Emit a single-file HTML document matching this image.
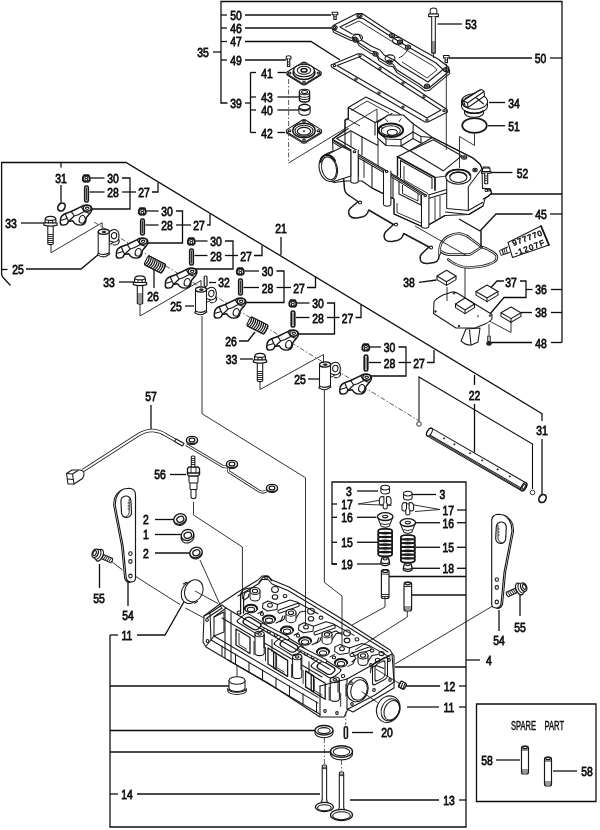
<!DOCTYPE html>
<html><head><meta charset="utf-8"><title>Cylinder head parts diagram</title>
<style>
html,body{margin:0;padding:0;background:#fff;}
body{width:600px;height:830px;overflow:hidden;}
svg{display:block;}
text{font-family:"Liberation Sans",sans-serif;font-size:13px;fill:#111;stroke:#111;stroke-width:.75px;}
.l{fill:none;stroke:#111;stroke-width:1.3;}
.t{fill:none;stroke:#1c1c1c;stroke-width:.9;}
.p{fill:none;stroke:#181818;stroke-width:1.05;stroke-linejoin:round;stroke-linecap:round;}
.w{fill:#fff;stroke:#181818;stroke-width:1.05;stroke-linejoin:round;stroke-linecap:round;}
.k{fill:#222;stroke:#222;stroke-width:.6;}
.d{fill:none;stroke:#333;stroke-width:.8;stroke-dasharray:5 2 1.5 2;}
</style></head><body>
<svg width="600" height="830" viewBox="0 0 600 830">
<defs><filter id="b" x="-2%" y="-2%" width="104%" height="104%"><feGaussianBlur stdDeviation="0.45"/></filter></defs>
<rect width="600" height="830" fill="#fff"/>
<g filter="url(#b)">
<!-- 10_labels_top.py -->
<path class="l" d="M221 102.5 L221 1.5 L562 1.5 L562 342.5"/>
<text transform="translate(203,52) scale(0.8,1)" text-anchor="middle" y="4.7">35</text>
<path class="l" d="M213 52 L221 52"/>
<path class="l" d="M221 15 L227 15"/>
<text transform="translate(236,15) scale(0.8,1)" text-anchor="middle" y="4.7">50</text>
<path class="l" d="M221 28 L227 28"/>
<text transform="translate(236,28) scale(0.8,1)" text-anchor="middle" y="4.7">46</text>
<path class="l" d="M221 41.5 L227 41.5"/>
<text transform="translate(236,41.5) scale(0.8,1)" text-anchor="middle" y="4.7">47</text>
<path class="l" d="M221 60 L227 60"/>
<text transform="translate(236,60) scale(0.8,1)" text-anchor="middle" y="4.7">49</text>
<path class="l" d="M245 15 L331 15"/>
<path class="l" d="M245 28 L332 28"/>
<path class="l" d="M245 41.5 L311 41.5 L340 60"/>
<path class="l" d="M245 60 L286 60"/>
<path class="l" d="M221 102 L221 103 L227.5 103"/>
<text transform="translate(236,103.5) scale(0.8,1)" text-anchor="middle" y="4.7">39</text>
<path class="l" d="M245 103 L250.5 103"/>
<path class="l" d="M250.5 72.5 L250.5 132.5"/>
<path class="l" d="M250.5 72.5 L256 72.5"/>
<text transform="translate(267,73) scale(0.8,1)" text-anchor="middle" y="4.7">41</text>
<path class="l" d="M277.5 72.5 L286 72.5"/>
<path class="l" d="M250.5 97 L256 97"/>
<text transform="translate(267,97.5) scale(0.8,1)" text-anchor="middle" y="4.7">43</text>
<path class="l" d="M277.5 97 L299.5 97"/>
<path class="l" d="M250.5 110 L256 110"/>
<text transform="translate(267,110.5) scale(0.8,1)" text-anchor="middle" y="4.7">40</text>
<path class="l" d="M277.5 110 L299 110"/>
<path class="l" d="M250.5 132.5 L256 132.5"/>
<text transform="translate(267,133) scale(0.8,1)" text-anchor="middle" y="4.7">42</text>
<path class="l" d="M277.5 132.5 L285 132.5"/>
<text transform="translate(471,24) scale(0.8,1)" text-anchor="middle" y="4.7">53</text>
<path class="l" d="M437.5 24 L462 24"/>
<text transform="translate(540.5,58) scale(0.8,1)" text-anchor="middle" y="4.7">50</text>
<path class="l" d="M449 58 L532 58"/>
<path class="l" d="M550 58 L562 58"/>
<text transform="translate(514,103) scale(0.8,1)" text-anchor="middle" y="4.7">34</text>
<path class="l" d="M489 102.5 L505 102.5"/>
<text transform="translate(514,126) scale(0.8,1)" text-anchor="middle" y="4.7">51</text>
<path class="l" d="M488 125.7 L505 125.7"/>
<text transform="translate(522.5,173) scale(0.8,1)" text-anchor="middle" y="4.7">52</text>
<path class="l" d="M491 172.5 L512.5 172.5"/>
<path class="l" d="M491 194 L562 194"/>
<text transform="translate(541,214.5) scale(0.8,1)" text-anchor="middle" y="4.7">45</text>
<path class="l" d="M480 231 L496 214 L532.5 214"/>
<path class="l" d="M550 214 L562 214"/>
<path class="l" d="M459 219 L480 231"/>
<text transform="translate(541,289.5) scale(0.8,1)" text-anchor="middle" y="4.7">36</text>
<path class="l" d="M551 289.5 L562 289.5"/>
<path class="l" d="M526 289.5 L532.5 289.5"/>
<path class="l" d="M520 281 L526 281 L526 297.5 L504 297.5 L490 314"/>
<text transform="translate(511,282) scale(0.8,1)" text-anchor="middle" y="4.7">37</text>
<path class="l" d="M491 287.5 L497 281 L504 281"/>
<text transform="translate(541,312.5) scale(0.8,1)" text-anchor="middle" y="4.7">38</text>
<path class="l" d="M521 312.5 L532 312.5"/>
<path class="l" d="M551 312.5 L562 312.5"/>
<text transform="translate(541,343) scale(0.8,1)" text-anchor="middle" y="4.7">48</text>
<path class="l" d="M491 342.5 L532 342.5"/>
<path class="l" d="M551 342.5 L562 342.5"/>
<text transform="translate(409,282.5) scale(0.8,1)" text-anchor="middle" y="4.7">38</text>
<path class="l" d="M419 282.3 L436.5 280"/>
<path class="t" d="M511 321 L511 332.5 L476 314"/>
<!-- 20_labels_rocker.py -->
<path class="l" d="M10.5 285.5 L2.5 277 L1.6 274 L1.6 162.5 L126 162.5 L542.5 414"/>
<path class="l" d="M1.6 269.5 L7.5 269.5"/>
<text transform="translate(18,269) scale(0.8,1)" text-anchor="middle" y="4.7">25</text>
<path class="l" d="M26 269 L81 269 L99 254"/>
<path class="l" d="M61 162.5 L61 167.5"/>
<text transform="translate(61,178) scale(0.8,1)" text-anchor="middle" y="4.7">31</text>
<path class="l" d="M61 185 L61 202.5"/>
<text transform="translate(11,223) scale(0.8,1)" text-anchor="middle" y="4.7">33</text>
<path class="l" d="M21 223 L44 223"/>
<text transform="translate(109,282) scale(0.8,1)" text-anchor="middle" y="4.7">33</text>
<path class="l" d="M119 282 L134 282"/>
<text transform="translate(281,228) scale(0.8,1)" text-anchor="middle" y="4.7">21</text>
<path class="l" d="M281 237 L281 255"/>
<text transform="translate(113,178.5) scale(0.8,1)" text-anchor="middle" y="4.7">30</text>
<text transform="translate(113,192.5) scale(0.8,1)" text-anchor="middle" y="4.7">28</text>
<text transform="translate(144,192.5) scale(0.8,1)" text-anchor="middle" y="4.7">27</text>
<path class="l" d="M90.5 178 L104.5 178"/>
<path class="l" d="M89.5 192 L104.5 192"/>
<path class="l" d="M122 178 L130 178 L130 209 L90 209"/>
<path class="l" d="M122 192 L136 192"/>
<path class="l" d="M152 192 L158 192 L158 182.5"/>
<text transform="translate(167,211.5) scale(0.8,1)" text-anchor="middle" y="4.7">30</text>
<text transform="translate(167,225.5) scale(0.8,1)" text-anchor="middle" y="4.7">28</text>
<text transform="translate(199,225.5) scale(0.8,1)" text-anchor="middle" y="4.7">27</text>
<path class="l" d="M146.5 211 L158.5 211"/>
<path class="l" d="M145.5 225 L158.5 225"/>
<path class="l" d="M176 211 L182.5 211 L182.5 243 L145 243"/>
<path class="l" d="M176 225 L191 225"/>
<path class="l" d="M207 225 L210 225 L210 214"/>
<text transform="translate(216,241.5) scale(0.8,1)" text-anchor="middle" y="4.7">30</text>
<text transform="translate(216,256) scale(0.8,1)" text-anchor="middle" y="4.7">28</text>
<text transform="translate(246,256) scale(0.8,1)" text-anchor="middle" y="4.7">27</text>
<path class="l" d="M195.5 241 L207.5 241"/>
<path class="l" d="M194.5 255.5 L207.5 255.5"/>
<path class="l" d="M225 241 L233 241 L233 269 L194 269"/>
<path class="l" d="M225 255.5 L238 255.5"/>
<path class="l" d="M254 255.5 L262 255.5 L262 245.5"/>
<text transform="translate(267.5,271.5) scale(0.8,1)" text-anchor="middle" y="4.7">30</text>
<text transform="translate(267.5,288) scale(0.8,1)" text-anchor="middle" y="4.7">28</text>
<text transform="translate(299,288) scale(0.8,1)" text-anchor="middle" y="4.7">27</text>
<path class="l" d="M244.5 271 L259 271"/>
<path class="l" d="M243.5 287.5 L259 287.5"/>
<path class="l" d="M276.5 271 L284 271 L284 302.5 L241 302.5"/>
<path class="l" d="M276.5 287.5 L291 287.5"/>
<path class="l" d="M307 287.5 L315.5 287.5 L315.5 276.5"/>
<text transform="translate(318,303.5) scale(0.8,1)" text-anchor="middle" y="4.7">30</text>
<text transform="translate(318,318) scale(0.8,1)" text-anchor="middle" y="4.7">28</text>
<text transform="translate(347.5,318) scale(0.8,1)" text-anchor="middle" y="4.7">27</text>
<path class="l" d="M297 303 L309.5 303"/>
<path class="l" d="M296 317.5 L309.5 317.5"/>
<path class="l" d="M327 303 L334.5 303 L334.5 334 L295 334"/>
<path class="l" d="M327 317.5 L339.5 317.5"/>
<path class="l" d="M355.5 317.5 L361 317.5 L361 305"/>
<text transform="translate(389.5,347.5) scale(0.8,1)" text-anchor="middle" y="4.7">30</text>
<text transform="translate(389.5,363) scale(0.8,1)" text-anchor="middle" y="4.7">28</text>
<text transform="translate(419,363) scale(0.8,1)" text-anchor="middle" y="4.7">27</text>
<path class="l" d="M370 347 L381 347"/>
<path class="l" d="M369 362.5 L381 362.5"/>
<path class="l" d="M398.5 347 L406 347 L406 376 L366 376"/>
<path class="l" d="M398.5 362.5 L411 362.5"/>
<path class="l" d="M427 362.5 L434 362.5 L434 350"/>
<text transform="translate(224,282.5) scale(0.8,1)" text-anchor="middle" y="4.7">32</text>
<path class="l" d="M209 282.5 L216 282.5"/>
<text transform="translate(153,296.5) scale(0.8,1)" text-anchor="middle" y="4.7">26</text>
<path class="l" d="M154 269 L154 288"/>
<text transform="translate(231,341) scale(0.8,1)" text-anchor="middle" y="4.7">26</text>
<path class="l" d="M239 341 L248 341 L255 332"/>
<text transform="translate(176,306) scale(0.8,1)" text-anchor="middle" y="4.7">25</text>
<path class="l" d="M185 306 L194 306"/>
<text transform="translate(300,379) scale(0.8,1)" text-anchor="middle" y="4.7">25</text>
<path class="l" d="M308 379 L319 379"/>
<text transform="translate(231.5,359) scale(0.8,1)" text-anchor="middle" y="4.7">33</text>
<path class="l" d="M240 359 L253 359"/>
<text transform="translate(474.5,395.5) scale(0.8,1)" text-anchor="middle" y="4.7">22</text>
<path class="l" d="M474.5 375 L474.5 385"/>
<path class="l" d="M474.5 404 L474.5 452.5"/>
<path class="l" style="stroke-width:1.1" d="M419 420.5 L419 377 L532.5 444 L532.5 489"/>
<ellipse class="t" cx="419" cy="424" rx="2.3" ry="2.3"/>
<ellipse class="t" cx="532.5" cy="492.5" rx="2.3" ry="2.3"/>
<text transform="translate(542,430) scale(0.8,1)" text-anchor="middle" y="4.7">31</text>
<path class="l" d="M542 414 L542 421"/>
<path class="l" d="M542 439 L542 494"/>
<!-- 30_labels_low.py -->
<text transform="translate(151,396) scale(0.8,1)" text-anchor="middle" y="4.7">57</text>
<path class="l" d="M151 405 L151 430"/>
<text transform="translate(160,474.5) scale(0.8,1)" text-anchor="middle" y="4.7">56</text>
<path class="l" d="M170 474.5 L186 474.5"/>
<text transform="translate(146,519.5) scale(0.8,1)" text-anchor="middle" y="4.7">2</text>
<path class="l" d="M155 519.5 L174 519.5"/>
<text transform="translate(146,534.5) scale(0.8,1)" text-anchor="middle" y="4.7">1</text>
<path class="l" d="M155 534.5 L181 534.5"/>
<text transform="translate(146,553) scale(0.8,1)" text-anchor="middle" y="4.7">2</text>
<path class="l" d="M155 553 L189.5 553"/>
<text transform="translate(99,598) scale(0.8,1)" text-anchor="middle" y="4.7">55</text>
<path class="l" d="M99.5 564 L99.5 588"/>
<text transform="translate(128,615) scale(0.8,1)" text-anchor="middle" y="4.7">54</text>
<path class="l" d="M128 582 L128 606"/>
<text transform="translate(127,635) scale(0.8,1)" text-anchor="middle" y="4.7">11</text>
<path class="l" d="M110 635 L118 635"/>
<path class="l" d="M137 635 L165 635 L185 600"/>
<path class="l" d="M110 635 L110 827 L466 827 L466 482 L332 482 L332 564 L337 564"/>
<path class="l" d="M110 686 L233 686"/>
<path class="l" d="M110 730.5 L315 730.5"/>
<path class="l" d="M110 752 L330 752"/>
<text transform="translate(127,794) scale(0.8,1)" text-anchor="middle" y="4.7">14</text>
<path class="l" d="M110 794 L118 794"/>
<path class="l" d="M137 794 L320 794"/>
<text transform="translate(449,800) scale(0.8,1)" text-anchor="middle" y="4.7">13</text>
<path class="l" d="M350 800 L439 800"/>
<path class="l" d="M459 800 L466 800"/>
<text transform="translate(387,732.5) scale(0.8,1)" text-anchor="middle" y="4.7">20</text>
<path class="l" d="M352 732.5 L373 732.5"/>
<text transform="translate(449,707) scale(0.8,1)" text-anchor="middle" y="4.7">11</text>
<path class="l" d="M407 707 L439 707"/>
<path class="l" d="M459 707 L466 707"/>
<text transform="translate(449.5,686) scale(0.8,1)" text-anchor="middle" y="4.7">12</text>
<path class="l" d="M406 686 L440 686"/>
<path class="l" d="M459 686 L466 686"/>
<text transform="translate(489,660) scale(0.8,1)" text-anchor="middle" y="4.7">4</text>
<path class="l" d="M466 660 L480 660"/>
<path class="l" d="M395 667 L466 667"/>
<path class="t" d="M496 604 L395 664"/>
<path class="l" d="M388 576.5 L466 576.5"/>
<text transform="translate(499,640.5) scale(0.8,1)" text-anchor="middle" y="4.7">54</text>
<path class="l" d="M499 610 L499 631"/>
<text transform="translate(520,627.5) scale(0.8,1)" text-anchor="middle" y="4.7">55</text>
<path class="l" d="M520 595 L520 616"/>
<path class="l" d="M332 504 L337 504"/>
<text transform="translate(347,504.3) scale(0.8,1)" text-anchor="middle" y="4.7">17</text>
<path class="l" d="M332 517.3 L337 517.3"/>
<text transform="translate(347,517.6) scale(0.8,1)" text-anchor="middle" y="4.7">16</text>
<path class="l" d="M357 517.3 L376.5 517.3"/>
<path class="l" d="M332 542.3 L337 542.3"/>
<text transform="translate(347,542.6) scale(0.8,1)" text-anchor="middle" y="4.7">15</text>
<path class="l" d="M357 542.3 L378 542.3"/>
<path class="l" d="M332 564 L337 564"/>
<text transform="translate(347,564.3) scale(0.8,1)" text-anchor="middle" y="4.7">19</text>
<path class="l" d="M357 564 L380 564"/>
<text transform="translate(349,491) scale(0.8,1)" text-anchor="middle" y="4.7">3</text>
<path class="l" d="M357 491 L378 491"/>
<path class="t" d="M381.5 500 L358 504 L391.5 505.5"/>
<text transform="translate(442.5,494.5) scale(0.8,1)" text-anchor="middle" y="4.7">3</text>
<path class="l" d="M411.5 494.5 L436 494.5"/>
<path class="l" d="M457 510 L466 510"/>
<text transform="translate(448.3,510.3) scale(0.8,1)" text-anchor="middle" y="4.7">17</text>
<path class="l" d="M457 522.7 L466 522.7"/>
<text transform="translate(448.3,523) scale(0.8,1)" text-anchor="middle" y="4.7">16</text>
<path class="l" d="M415 522.7 L440 522.7"/>
<path class="l" d="M457 547.3 L466 547.3"/>
<text transform="translate(448.3,547.6) scale(0.8,1)" text-anchor="middle" y="4.7">15</text>
<path class="l" d="M415 547.3 L440 547.3"/>
<path class="l" d="M457 568.3 L466 568.3"/>
<text transform="translate(448.3,568.6) scale(0.8,1)" text-anchor="middle" y="4.7">18</text>
<path class="l" d="M411.5 568.3 L440 568.3"/>
<path class="t" d="M403 503 L440 509.5 L415 511.5"/>
<path class="l" d="M476.5 704 L596 704 L596 801.5 L476.5 801.5Z"/>
<text transform="translate(523.5,725.5) scale(.6,1)" text-anchor="middle" y="4.5" style="font-size:12.6px;stroke-width:.45px">SPARE</text>
<text transform="translate(554.3,725.5) scale(.6,1)" text-anchor="middle" y="4.5" style="font-size:12.6px;stroke-width:.45px">PART</text>
<text transform="translate(487,760) scale(0.8,1)" text-anchor="middle" y="4.7">58</text>
<path class="l" d="M496 760 L520 760"/>
<text transform="translate(587,771) scale(0.8,1)" text-anchor="middle" y="4.7">58</text>
<path class="l" d="M553 771 L577 771"/>
<!-- 40_cover.py -->
<path class="w" d="M348.3 107.5 L366 97 L398 113 L432.5 137.5 L473 158 L480 164 L482 168.5 L482.5 188.5 L490.5 189 L491.7 193.5 L485 198.5 L483 206 L469 214.5 L445 215.5 L424 227.5 L394 214 L394 199 L372 188 L362 181 L346 181 L334 182.5 L324 178 L319.5 168 L321 158 L327 153.5 L333 151 L332.5 139.2 L345 130 L345 120 L348.3 118Z"/>
<path class="p" d="M348.3 107.5 L375 122.5 L375 135"/>
<path class="p" d="M375 122.5 L392 113.5"/>
<path class="p" d="M348.3 107.5 L348.3 119.5 L345 120 L345 128"/>
<path class="t" d="M351.5 110.5 L367 101 L389 113"/>
<path class="t" d="M348.3 119.5 L360 126"/>
<path class="p" d="M332.5 139.2 L348.3 128.5"/>
<path class="p" d="M336.7 138.5 L350.8 130.8 L362 137"/>
<path class="p" d="M332.5 139.2 L356.7 153.3 L396.7 176.7 L426.7 195.5"/>
<path class="p" d="M333.3 140.8 L356.7 154.9 L396.7 178.3 L426.7 197.1"/>
<path class="p" d="M333.3 142.6 L356.7 156.7 L396.7 180.1 L426.7 198.9"/>
<path class="p" d="M336.7 138.5 L358 151"/>
<path class="p" d="M426.7 195.5 L446.7 189.5"/>
<path class="p" d="M426.7 199 L446.7 193"/>
<path class="p" d="M426.7 195.5 L426.7 199"/>
<path class="p" d="M362 137 L362 155"/>
<path class="p" d="M362 137 L378 145.5 L378 140"/>
<path class="t" d="M378 145.5 L378 166"/>
<path class="t" d="M351 131.5 L351 147"/>
<path class="w" d="M377.5 122.5 L388.3 115 L403.3 115 L413.3 124 L413 132 L401 139.5 L386 139 L377.5 131.5Z"/>
<path class="p" d="M377.5 131.5 L377.5 138 L386 145.5 L401 146 L413 138.5 L413 132"/>
<path class="p" d="M386 139 L386 145.5"/>
<path class="p" d="M401 139.5 L401 146"/>
<ellipse class="p" style="stroke-width:2" cx="390.8" cy="130.3" rx="12.3" ry="6.8"/>
<ellipse class="p" cx="390.8" cy="130.8" rx="9.6" ry="5"/>
<ellipse class="w" cx="392.3" cy="132.3" rx="5" ry="2.9"/>
<path class="t" d="M385 118.5 L388 122"/>
<path class="t" d="M401 118.5 L399 122"/>
<path class="t" d="M379.5 127 L382.5 128"/>
<path class="p" d="M413 132 L421 136.5 L432.5 137.5"/>
<path class="p" d="M413 138.5 L421 143 L421 136.5"/>
<path class="p" d="M401 146 L409.2 150.8"/>
<path class="p" d="M409.2 150.8 L432.5 137.5 L473.3 158.3 L480 164.2 L482 168.5"/>
<path class="p" d="M410 150.8 L433.3 139.8 L461.7 155.8 L443.3 170.8Z"/>
<path class="p" d="M482 168.5 L468.3 186.7 L468.3 210"/>
<path class="p" d="M446.7 176 L446.7 208.5 L468.3 210.5 L482.5 202.5"/>
<path class="p" d="M445.5 212 L468.5 214.5 L483 206"/>
<ellipse class="w" cx="458.3" cy="176.7" rx="12.5" ry="7.5"/>
<ellipse class="p" cx="458.3" cy="177.2" rx="8.6" ry="5.2"/>
<path class="p" style="stroke-width:1.9" d="M446.3 175 a12.5 7.5 0 0 1 24 0"/>
<path class="p" style="stroke-width:1.5" d="M450 176 a8.6 5.2 0 0 1 16.6 0"/>
<ellipse class="p" cx="464.2" cy="157.5" rx="2.6" ry="1.7"/>
<ellipse class="p" cx="464.2" cy="157.5" rx="1.2" ry="0.8"/>
<ellipse class="p" cx="475" cy="170" rx="2.2" ry="1.7"/>
<ellipse class="p" cx="475" cy="170" rx="1" ry="0.8"/>
<path class="p" d="M482.3 188.3 L489.5 188.8 L491.7 193 L488 196.5 L483 199"/>
<ellipse class="p" cx="486.3" cy="190.5" rx="1.3" ry="1.1"/>
<ellipse class="p" cx="488.8" cy="190" rx="1.3" ry="1.1"/>
<path class="p" style="stroke-width:1.7" d="M397.5 156.7 L435 177.5 L435 190"/>
<path class="p" style="stroke-width:1.4" d="M397.5 156.7 L397.5 176"/>
<path class="p" d="M400.5 160.5 L432 178 L432 188.5"/>
<path class="p" d="M400.5 160.5 L400.5 177.5"/>
<path class="t" d="M404 166 L404 180 L428 193.5"/>
<path class="t" d="M435 177.5 L446.7 176"/>
<path class="p" d="M409.2 150.8 L397.5 156.7"/>
<path class="p" d="M345 128 L345 150"/>
<path class="p" d="M358.5 158 L358.5 176.5"/>
<path class="t" d="M364 160 L364 178"/>
<path class="p" d="M372 166 L372 188 L393 198.5 L393 178"/>
<path class="p" d="M399 181.5 L399 194 L421 205 L421 196"/>
<path class="t" d="M402.5 185 L402.5 193.5 L418 201 L418 193.5"/>
<path class="p" d="M424 199 L424 227.5"/>
<path class="p" d="M394 199 L394 214 L424 227.5 L445 215.5"/>
<path class="t" d="M397 203 L397 212.5 L421 223"/>
<path class="t" d="M435 197.5 L435 220"/>
<path class="t" d="M440 196 L440 217.5"/>
<path class="w" d="M350.8 150 v31 a3.7 2.2 0 0 0 7.4 0 v-31"/>
<path class="w" d="M383.5 171 v33 a3.7 2.2 0 0 0 7.4 0 v-33"/>
<path class="w" d="M421.5 195 v31 a3.7 2.2 0 0 0 7.4 0 v-31"/>
<ellipse class="p" cx="354.5" cy="151.7" rx="1.3" ry="1"/>
<ellipse class="p" cx="386.7" cy="171.5" rx="1.3" ry="1"/>
<ellipse class="p" cx="425.2" cy="195.5" rx="1.3" ry="1"/>
<path class="w" d="M327.5 154.5 L342.5 146.7 L350.8 151 L350.8 176 L334 181.5"/>
<ellipse class="w" cx="328.3" cy="168.3" rx="9" ry="13.4" transform="rotate(-13 328.3 168.3)"/>
<ellipse class="p" cx="329" cy="168.3" rx="7.3" ry="11.6" transform="rotate(-13 329 168.3)"/>
<path class="p" style="stroke-width:1.9" d="M320.5 162 Q321.5 155.5 326.5 154.8 Q331.5 154.8 335 160.5"/>
<!-- 41_plate.py -->
<path class="w" d="M331 65 L358 53.8 L362 54 L447 109.5 L447.5 112 L428 122 L425 122 L331.5 67Z"/>
<path class="p" d="M337 65.5 L359 57 L441 110 L427 118Z"/>
<ellipse class="p" cx="334.5" cy="65.5" rx="1.2" ry="1.1"/>
<ellipse class="p" cx="360" cy="55.5" rx="1.2" ry="1.1"/>
<ellipse class="p" cx="444" cy="110.5" rx="1.2" ry="1.1"/>
<ellipse class="p" cx="427" cy="120" rx="1.2" ry="1.1"/>
<ellipse class="p" cx="380" cy="68.5" rx="1.2" ry="1.1"/>
<ellipse class="p" cx="403" cy="83" rx="1.2" ry="1.1"/>
<ellipse class="p" cx="424" cy="96.5" rx="1.2" ry="1.1"/>
<ellipse class="p" cx="356" cy="79" rx="1.2" ry="1.1"/>
<ellipse class="p" cx="379" cy="93" rx="1.2" ry="1.1"/>
<ellipse class="p" cx="403" cy="107" rx="1.2" ry="1.1"/>
<path class="w" d="M332.6 27.8 L332.8 30.5 L334 32.6 L351 40.6 L356 39.6 L359 45.6 L371 53.6 L376 54.6 L379 60.6 L388 66.1 L393 66.6 L397 72.6 L420 87.1 L425 91 L429 90.6 L449.6 73.6 L449.6 71"/>
<path class="w" d="M332.6 27.8 L334 25 L357 13.5 L362 13.5 L390 32 L405 40.5 L438 59 L448.5 67 L449.6 71 L429 88 L425 88.4 L420 84.5 L397 70 L393 64 L388 63.5 L379 58 L376 52 L371 51 L359 43 L356 37 L351 38 L334 30Z"/>
<path class="p" d="M340 27 L358 18 L363 18.5 L390 36 L404 44.5 L436 63 L443 69.5 L428 82 L400 65 L395 60.5 L384 55 L380 50 L372 46.5 L362 40.5 L359 34.5 L352 34Z"/>
<path class="t" d="M345 27.5 L359 21 L388 39 L403 48 L434 66.5 L437 70 L427 78 L402 62"/>
<ellipse class="w" cx="334.5" cy="27.5" rx="2.6" ry="2.1"/>
<ellipse class="p" cx="334.5" cy="27.5" rx="1.2" ry="1"/>
<ellipse class="w" cx="359.5" cy="15.5" rx="2.6" ry="2.1"/>
<ellipse class="p" cx="359.5" cy="15.5" rx="1.2" ry="1"/>
<ellipse class="w" cx="446" cy="69.5" rx="2.6" ry="2.1"/>
<ellipse class="p" cx="446" cy="69.5" rx="1.2" ry="1"/>
<ellipse class="w" cx="427" cy="86" rx="2.6" ry="2.1"/>
<ellipse class="p" cx="427" cy="86" rx="1.2" ry="1"/>
<ellipse class="w" cx="355.5" cy="40" rx="2.6" ry="2.1"/>
<ellipse class="p" cx="355.5" cy="40" rx="1.2" ry="1"/>
<ellipse class="w" cx="375.5" cy="54" rx="2.6" ry="2.1"/>
<ellipse class="p" cx="375.5" cy="54" rx="1.2" ry="1"/>
<ellipse class="w" cx="389.5" cy="62" rx="2.6" ry="2.1"/>
<ellipse class="p" cx="389.5" cy="62" rx="1.2" ry="1"/>
<ellipse class="w" cx="392" cy="35.5" rx="2.6" ry="2.1"/>
<ellipse class="p" cx="392" cy="35.5" rx="1.2" ry="1"/>
<ellipse class="w" cx="400" cy="42" rx="2.6" ry="2.1"/>
<ellipse class="p" cx="400" cy="42" rx="1.2" ry="1"/>
<ellipse class="w" cx="408" cy="47" rx="2.6" ry="2.1"/>
<ellipse class="p" cx="408" cy="47" rx="1.2" ry="1"/>
<path class="t" d="M408.4 47.3 Q406 55 398.7 58"/>
<ellipse class="p" cx="357.5" cy="37.8" rx="5" ry="3.4"/>
<ellipse class="p" cx="397.5" cy="40.8" rx="5" ry="3.4"/>
<ellipse class="p" cx="390" cy="58.3" rx="5" ry="3.4"/>
<path class="w" d="M332.2 12.2 h5.6 v2.6 h-5.6z"/>
<path class="w" d="M333.8 14.8 v4.6 h2.4 v-4.6"/>
<path class="t" d="M333.8 16.8 L336.2 16.8"/>
<path class="w" d="M443.5 55.4 h5.6 v2.6 h-5.6z"/>
<path class="w" d="M445.1 58 v4.6 h2.4 v-4.6"/>
<path class="t" d="M445.1 60 L447.5 60"/>
<path class="w" d="M430.2 10.5 q0 -2.5 3.3 -2.5 q3.3 0 3.3 2.5 v3.5 h-6.6z"/>
<path class="w" d="M428.6 14 h9.8 v2.6 h-9.8z"/>
<path class="w" d="M431.7 16.6 v36.5 h3.6 v-36.5"/>
<path class="t" d="M431.7 42 L435.3 42"/>
<path class="t" d="M431.7 44 L435.3 44"/>
<path class="t" d="M431.7 46 L435.3 46"/>
<path class="t" d="M431.7 48 L435.3 48"/>
<path class="t" d="M431.7 50 L435.3 50"/>
<path class="t" d="M431.7 52 L435.3 52"/>
<path class="t" d="M433.5 53.5 L433.5 58"/>
<path class="t" d="M446.3 64 L446.3 150"/>
<!-- 42_diaphragm.py -->
<path class="w" d="M289 71.8 Q284.5 74 289 76.2 L300.5 83.3 Q304 86.7 307.5 83.3 L319 76.2 Q323.5 74 319 71.8 L307.5 64.7 Q304 61.3 300.5 64.7 Z"/>
<path class="w" d="M289 70.8 Q284.5 73 289 75.2 L300.5 82.3 Q304 85.7 307.5 82.3 L319 75.2 Q323.5 73 319 70.8 L307.5 63.7 Q304 60.3 300.5 63.7 Z"/>
<ellipse class="p" cx="289.5" cy="73" rx="1.4" ry="1"/>
<ellipse class="p" cx="304" cy="63.8" rx="1.4" ry="1"/>
<ellipse class="p" cx="318.5" cy="73" rx="1.4" ry="1"/>
<ellipse class="p" cx="304" cy="82.3" rx="1.4" ry="1"/>
<ellipse class="w" style="stroke-width:1.6" cx="304" cy="72.5" rx="10.8" ry="7"/>
<ellipse class="w" cx="304" cy="70.5" rx="10.3" ry="6.3"/>
<ellipse class="p" cx="304" cy="70.3" rx="6.8" ry="4"/>
<ellipse class="p" style="stroke-width:1.5" cx="304" cy="70.3" rx="3" ry="1.8"/>
<path class="w" d="M286.2 57 q0 -1.3 2.4 -1.3 q2.4 0 2.4 1.3 v2 h-4.8z"/>
<path class="w" d="M287.4 59 v7.5 h2.4 v-7.5"/>
<path class="t" d="M287.4 62 L289.8 62"/>
<path class="t" d="M287.4 64.3 L289.8 64.3"/>
<path class="d" d="M288.6 79 L288.6 163"/>
<path class="t" d="M288.6 163 L377 109"/>
<path class="t" d="M377 109 L377 123"/>
<path class="w" d="M299.3 92 v7.5 a5.2 2.8 0 0 0 10.4 0 v-7.5"/>
<ellipse class="w" cx="304.5" cy="92" rx="5.2" ry="2.8"/>
<ellipse class="p" cx="304.5" cy="92" rx="3" ry="1.5"/>
<path class="p" d="M299.3 94.5 a5.2 2.8 0 0 0 10.4 0"/>
<path class="p" d="M299.3 96.7 a5.2 2.8 0 0 0 10.4 0"/>
<path class="p" d="M299.3 98.9 a5.2 2.8 0 0 0 10.4 0"/>
<path class="w" d="M298.9 107.5 v4.8 a5.6 3 0 0 0 11.2 0 v-4.8"/>
<ellipse class="w" style="stroke-width:1.4" cx="304.5" cy="107.5" rx="5.6" ry="3.2"/>
<path class="p" d="M300.2 108.5 q4.3 2.6 8.6 0"/>
<path class="w" d="M288.5 129.8 Q284 132 288.5 134.2 L300.5 141.6 Q304 145 307.5 141.6 L319.5 134.2 Q324 132 319.5 129.8 L307.5 122.4 Q304 119 300.5 122.4 Z"/>
<path class="w" d="M288.5 128.6 Q284 130.8 288.5 133 L300.5 140.4 Q304 143.8 307.5 140.4 L319.5 133 Q324 130.8 319.5 128.6 L307.5 121.2 Q304 117.8 300.5 121.2 Z"/>
<ellipse class="p" cx="289.5" cy="130.8" rx="1.4" ry="1"/>
<ellipse class="p" cx="304" cy="121.3" rx="1.4" ry="1"/>
<ellipse class="p" cx="318.5" cy="130.8" rx="1.4" ry="1"/>
<ellipse class="p" cx="304" cy="140.3" rx="1.4" ry="1"/>
<ellipse class="w" style="stroke-width:1.4" cx="304" cy="130.5" rx="11.2" ry="7.3"/>
<ellipse class="p" cx="304" cy="130.8" rx="9" ry="5.6"/>
<ellipse class="p" style="stroke-width:1.3" cx="304" cy="131.2" rx="6.6" ry="3.9"/>
<ellipse class="k" cx="304" cy="131.2" rx="0.8" ry="0.6"/>
<!-- 43_cap.py -->
<path class="w" d="M464.5 110.5 v2.5 a9.5 4.3 0 0 0 19 0 v-2.5"/>
<path class="w" d="M461.5 101.5 v4.2 a13 7.6 0 0 0 26 0 v-4.2"/>
<ellipse class="w" cx="474.5" cy="101.5" rx="13" ry="7.8"/>
<path class="p" style="stroke-width:1.6" d="M465 111 a9.5 3.4 0 0 0 18 0"/>
<path class="w" d="M463.5 100.5 L479 90.5 Q482.5 88.5 484 91.5 L484.5 96 L468 107.5 L465 106 Z"/>
<path class="p" d="M465 98.5 L480.5 89.8 M468 107.5 L467.5 103 L484 91.5 M467.5 103 L463.5 100.5 M476 97.5 L483.5 104"/>
<path class="p" d="M463 99 q-1.5 3 0.5 6"/>
<ellipse class="p" style="stroke-width:1.7" cx="474.5" cy="125.5" rx="12.3" ry="7.3"/>
<path class="t" d="M474.5 134 L474.5 145.5 L459.5 136.5 L459.5 168"/>
<path class="w" d="M482.5 168 h7.5 v3.6 h-7.5z"/>
<path class="w" d="M481.5 171.6 h9.5 v1.6 h-9.5z"/>
<path class="p" d="M483.5 168 v-1 h5.5 v1"/>
<path class="w" d="M484.7 173.2 v10.5 h3 v-10.5"/>
<path class="t" d="M484.7 176 L487.7 176"/>
<path class="t" d="M484.7 178.3 L487.7 178.3"/>
<path class="t" d="M484.7 180.6 L487.7 180.6"/>
<!-- 44_gasket45.py -->
<path d="M343.7 179 L344.5 189 Q345 193 349 195.5 L358 201.5 L350 208.5 Q347.5 211.5 349.5 215.5 Q352 218.5 357 218 L363 216.8 Q366 216 367.5 213 L368.7 210 L393.5 224.5 L385.5 232 Q383 235.5 385 239.5 Q387.5 242 392 241.5 L398 240.3 Q401 239.5 402.5 236.5 L403.7 233.5 L429 247 L421.5 254 Q419 257.5 421 261.5 Q423.5 264 428 263.5 L434 262.5 Q437 262 438.5 259 L439.5 254" fill="none" stroke="#1a1a1a" stroke-width="1.5" stroke-linejoin="round" stroke-linecap="round"/>
<path d="M481.7 247 Q486 248 489 250 Q495 253 496.8 256 Q497.5 259.5 494 262 Q489 265 482 266.3 Q470 268.3 462 266.8 Q454 264.5 448.3 259.5" fill="none" stroke="#222" stroke-width="2.6" stroke-linejoin="round" stroke-linecap="round"/>
<path d="M481.7 247 Q486 248 489 250 Q495 253 496.8 256 Q497.5 259.5 494 262 Q489 265 482 266.3 Q470 268.3 462 266.8 Q454 264.5 448.3 259.5" fill="none" stroke="#fff" stroke-width="0.9000000000000001" stroke-linejoin="round" stroke-linecap="round"/>
<path d="M439.5 254 Q439 248 441 243.7 Q444 238 449 236 Q455 233 461 233.7 Q466.5 235 471 239 L481.7 247 L471 254 Q469.5 254.6 467 254.6 L449 254.6 Q443.5 254 440.5 251" fill="none" stroke="#222" stroke-width="2.6" stroke-linejoin="round" stroke-linecap="round"/>
<path d="M439.5 254 Q439 248 441 243.7 Q444 238 449 236 Q455 233 461 233.7 Q466.5 235 471 239 L481.7 247 L471 254 Q469.5 254.6 467 254.6 L449 254.6 Q443.5 254 440.5 251" fill="none" stroke="#fff" stroke-width="0.9000000000000001" stroke-linejoin="round" stroke-linecap="round"/>
<ellipse class="w" cx="360" cy="202.5" rx="1.6" ry="1.4"/>
<ellipse class="w" cx="396" cy="224.5" rx="1.6" ry="1.4"/>
<ellipse class="w" cx="431" cy="247.5" rx="1.6" ry="1.4"/>
<path class="p" style="stroke-width:1.5" d="M481 231 L481 247.5"/>
<path class="t" d="M415 226 L466 255.3"/>
<path class="w" d="M508 242.5 L541 226 L549 245 L512.5 257.5 Z"/>
<path class="w" d="M507.5 247 L502 249.5 L503.5 254.5 L509.5 252.5"/>
<path class="t" d="M502 249.5 L499.5 250.5 L501 255.5 L503.5 254.5 M504 249 L505.3 253.7 M506 248 L507.3 252.9"/>
<path class="p" style="stroke-width:1.8" d="M541 226 L549 245"/>
<text transform="translate(527,238) rotate(-20.5)" text-anchor="middle" y="2.8" textLength="31" lengthAdjust="spacing" style="font-size:7.8px;stroke-width:.5px">977770</text>
<text transform="translate(529.5,247.7) rotate(-20.5)" text-anchor="middle" y="2.8" textLength="31" lengthAdjust="spacing" style="font-size:7.8px;stroke-width:.5px">-1207F</text>
<!-- 45_plate36.py -->
<path class="w" d="M466 329 L461 341 Q466 345.5 471.5 345 L478 342 L480 328 Z"/>
<path class="p" d="M469.5 330 L471 345"/>
<path class="w" d="M434 302 Q435 299 443 295 L452 292 Q455 291.5 458 293.5 L492 314.5 L492 319 Q489 322.5 485 324 L475 328 L456 328 L433.5 313.5 Z"/>
<ellipse class="k" cx="435.5" cy="311.5" rx="0.9" ry="0.9"/>
<ellipse class="k" cx="454" cy="293.3" rx="0.9" ry="0.9"/>
<ellipse class="k" cx="459" cy="326" rx="0.9" ry="0.9"/>
<ellipse class="k" cx="490" cy="315.6" rx="0.9" ry="0.9"/>
<path class="w" d="M455.5 304 L465 298 L474.5 304 L474.5 307.6 L465 313.6 L455.5 307.6 Z"/>
<path class="p" d="M455.5 304 L465 310 L474.5 304 M465 310 v3.6"/>
<path class="t" d="M447 287 L447 301"/>
<path class="t" d="M465 268 L465 298"/>
<path class="w" d="M437 276 L446.5 270.2 L456 276 L456 279.6 L446.5 285.4 L437 279.6 Z"/>
<path class="p" d="M437 276 L446.5 281.8 L456 276 M446.5 281.8 v3.6"/>
<path class="w" d="M476 291.5 L487 285 L498 291.5 L498 295.1 L487 301.6 L476 295.1 Z"/>
<path class="p" d="M476 291.5 L487 298 L498 291.5 M487 298 v3.6"/>
<path class="w" d="M501 312.8 L511 307 L521 312.8 L521 316.4 L511 322.2 L501 316.4 Z"/>
<path class="p" d="M501 312.8 L511 318.6 L521 312.8 M511 318.6 v3.6"/>
<path class="t" d="M478 317.5 L478 315"/>
<path class="t" d="M489 324 L489 335"/>
<path class="w" d="M487.8 336 v5.5 h2.4 v-5.5z"/>
<ellipse class="k" cx="489" cy="343.5" rx="2.6" ry="2"/>
<!-- 50_head.py -->
<path class="w" d="M204 616 L220 604 L238 592 L258 580 L262 576 L268 576 L272 580 L289 587 L337 616 L390 650 L394 656 L394 682 L375 695 L348 709 L344 717 L320 717 L268 683 L228 660 L206 647 L203 642Z"/>
<path class="p" d="M204 616 L210 613 L211 640 L206 646"/>
<path class="p" d="M210 613 L222 605 L226 608 L214 617 L214 636 L211 640"/>
<ellipse class="p" cx="207" cy="620" rx="1.3" ry="1.5"/>
<ellipse class="p" cx="207.5" cy="641" rx="1.3" ry="1.5"/>
<path class="p" d="M214 617 L224 612 L224 632 L214 636"/>
<path class="p" d="M226 608 L330 669.4"/>
<path class="p" d="M222 618 L322 677"/>
<path class="p" d="M214 636 L318 697.4"/>
<path class="p" d="M211 640 L318 703.1"/>
<path class="p" d="M228 660 L320 714.3"/>
<path class="p" style="stroke-width:1.3" d="M236 629 L236 645 L250 653.5 L250 637.5Z"/>
<path class="t" d="M239 633 L239 644.5 L247 649.5"/>
<path class="w" d="M255 634 v19 a4.6 2.6 0 0 0 9.2 0 v-19"/>
<ellipse class="w" cx="259.6" cy="634" rx="4.6" ry="2.8"/>
<ellipse class="p" cx="259.6" cy="634" rx="1.8" ry="1.2"/>
<path class="p" style="stroke-width:1.3" d="M268 648 L268 664 L276 669 L276 653Z"/>
<path class="t" d="M254 641 L254 655"/>
<path class="t" d="M265.5 647 L265.5 661"/>
<path class="p" style="stroke-width:1.3" d="M273.6 651.9 L273.6 667.9 L287.6 676.4 L287.6 660.4Z"/>
<path class="t" d="M276.6 655.9 L276.6 667.4 L284.6 672.4"/>
<path class="w" d="M292.6 656.9 v19 a4.6 2.6 0 0 0 9.2 0 v-19"/>
<ellipse class="w" cx="297.2" cy="656.9" rx="4.6" ry="2.8"/>
<ellipse class="p" cx="297.2" cy="656.9" rx="1.8" ry="1.2"/>
<path class="p" style="stroke-width:1.3" d="M305.6 670.9 L305.6 686.9 L313.6 691.9 L313.6 675.9Z"/>
<path class="t" d="M291.6 663.9 L291.6 677.9"/>
<path class="t" d="M303.1 669.9 L303.1 683.9"/>
<path class="p" style="stroke-width:1.3" d="M311.2 674.8 L311.2 690.8 L325.2 699.3 L325.2 683.3Z"/>
<path class="t" d="M314.2 678.8 L314.2 690.3 L322.2 695.3"/>
<path class="w" d="M330.2 679.8 v19 a4.6 2.6 0 0 0 9.2 0 v-19"/>
<ellipse class="w" cx="334.8" cy="679.8" rx="4.6" ry="2.8"/>
<ellipse class="p" cx="334.8" cy="679.8" rx="1.8" ry="1.2"/>
<path class="t" d="M329.2 686.8 L329.2 700.8"/>
<path class="t" d="M340.7 692.8 L340.7 706.8"/>
<path class="p" d="M222 646 L222 656"/>
<path class="p" d="M235.5 654 L235.5 664"/>
<path class="p" d="M249 661.9 L249 671.9"/>
<path class="p" d="M262.5 669.9 L262.5 679.9"/>
<path class="p" d="M276 677.9 L276 687.9"/>
<path class="p" d="M289.5 685.8 L289.5 695.8"/>
<path class="p" d="M303 693.8 L303 703.8"/>
<path class="p" d="M316.5 701.8 L316.5 711.8"/>
<path class="p" d="M225 610 L225 658"/>
<path class="p" d="M231 612 L231 662"/>
<rect class="p" style="stroke-width:1.3" x="-8.5" y="-4.4" width="17" height="8.8" rx="3.4" transform="translate(252,623.5) rotate(31) skewX(-14)"/>
<rect class="p" x="-12.5" y="-6.5" width="25" height="13" rx="3" transform="translate(252,623.5) rotate(31) skewX(-20)"/>
<ellipse class="p" cx="269" cy="631.5" rx="1.8" ry="1.6"/>
<ellipse class="p" cx="239" cy="612.5" rx="1.8" ry="1.6"/>
<path class="p" d="M264 635.5 L264 647.5"/>
<path class="p" d="M272 639.5 L272 651.5"/>
<rect class="p" style="stroke-width:1.3" x="-8.5" y="-4.4" width="17" height="8.8" rx="3.4" transform="translate(289,645.8) rotate(31) skewX(-14)"/>
<rect class="p" x="-12.5" y="-6.5" width="25" height="13" rx="3" transform="translate(289,645.8) rotate(31) skewX(-20)"/>
<ellipse class="p" cx="306" cy="653.8" rx="1.8" ry="1.6"/>
<ellipse class="p" cx="276" cy="634.8" rx="1.8" ry="1.6"/>
<path class="p" d="M301 657.8 L301 669.8"/>
<path class="p" d="M309 661.8 L309 673.8"/>
<rect class="p" style="stroke-width:1.3" x="-8.5" y="-4.4" width="17" height="8.8" rx="3.4" transform="translate(326,668.1) rotate(31) skewX(-14)"/>
<rect class="p" x="-12.5" y="-6.5" width="25" height="13" rx="3" transform="translate(326,668.1) rotate(31) skewX(-20)"/>
<ellipse class="p" cx="343" cy="676.1" rx="1.8" ry="1.6"/>
<ellipse class="p" cx="313" cy="657.1" rx="1.8" ry="1.6"/>
<path class="p" d="M338 680.1 L338 692.1"/>
<path class="p" d="M346 684.1 L346 696.1"/>
<path class="p" d="M347 679 L392 654 L394 682"/>
<path class="p" d="M347 679 L347 709"/>
<path class="p" d="M320 686 L320 716"/>
<path class="p" d="M320 686 L347 679"/>
<ellipse class="p" cx="357.5" cy="689.5" rx="10.5" ry="12.5" transform="rotate(20 357.5 689.5)"/>
<ellipse class="p" cx="359" cy="690" rx="8" ry="10.5" transform="rotate(20 359 690)"/>
<rect class="p" x="-5" y="-8.5" width="10" height="17" rx="3" transform="translate(380,671) skewY(-28)"/>
<rect class="p" x="-7.5" y="-11" width="15" height="22" rx="3" transform="translate(380,671) skewY(-28)"/>
<ellipse class="p" cx="351" cy="683" rx="1.3" ry="1.4"/>
<ellipse class="p" cx="389" cy="660" rx="1.3" ry="1.4"/>
<ellipse class="p" cx="390" cy="680" rx="1.3" ry="1.4"/>
<ellipse class="p" cx="371" cy="665" rx="1.3" ry="1.4"/>
<ellipse class="p" cx="352" cy="704" rx="1.3" ry="1.4"/>
<ellipse class="p" cx="374" cy="690" rx="1.3" ry="1.4"/>
<ellipse class="p" cx="325" cy="711" rx="1.3" ry="1.4"/>
<ellipse class="p" cx="337" cy="713" rx="1.3" ry="1.4"/>
<path class="p" d="M347 709 L353 712 L394 688 L394 682"/>
<path class="p" d="M238 596 L259 583.5 L262 579.5 L268 579.5 L272 584 L288 590.5 L336 619.5 L388 652"/>
<path class="p" d="M207 618 L222 608"/>
<ellipse class="p" cx="266" cy="578" rx="1.4" ry="1.3"/>
<path class="p" d="M263 603.5 L268 601 L277.5 604.5 L290 600 L297 602 L318 613.7"/>
<path class="p" d="M263 603.5 L262.5 608 L267.5 611 L277 609.5 L277.5 604.5"/>
<ellipse class="p" cx="270" cy="605.3" rx="2.4" ry="2"/>
<ellipse class="p" cx="275" cy="589.5" rx="3.4" ry="3"/>
<ellipse class="p" cx="275" cy="597" rx="2.8" ry="2.3"/>
<ellipse class="p" cx="285" cy="596" rx="1.9" ry="1.6"/>
<path class="w" d="M279 610 l18 -6.5 a1.6 1.6 0 0 1 1.2 3 l-18 6.5 a1.6 1.6 0 0 1 -1.2 -3z"/>
<path class="w" d="M250 591 v6.5 a5 3.5 0 0 0 10 0 v-6.5"/>
<ellipse class="w" cx="255" cy="591" rx="5" ry="3.5"/>
<ellipse class="p" cx="255" cy="591" rx="2.6" ry="1.8"/>
<ellipse class="w" cx="251" cy="608.7" rx="6.2" ry="4"/>
<path class="p" style="stroke-width:2" d="M244.8 608.7 a6.2 4 0 0 1 12.4 0"/>
<ellipse class="p" cx="251" cy="609.5" rx="3.6" ry="2.2"/>
<ellipse class="w" cx="269" cy="619.5" rx="6.2" ry="4"/>
<path class="p" style="stroke-width:2" d="M262.8 619.5 a6.2 4 0 0 1 12.4 0"/>
<ellipse class="p" cx="269" cy="620.3" rx="3.6" ry="2.2"/>
<ellipse class="p" cx="262" cy="614" rx="1.6" ry="1.4"/>
<path class="p" d="M296 618 L300 612 L306 611"/>
<path class="p" d="M299 625.2 L304 622.7 L313.5 626.2 L326 621.7 L333 623.7 L354 635.4"/>
<path class="p" d="M299 625.2 L298.5 629.7 L303.5 632.7 L313 631.2 L313.5 626.2"/>
<ellipse class="p" cx="306" cy="627" rx="2.4" ry="2"/>
<ellipse class="p" cx="311" cy="611.2" rx="3.4" ry="3"/>
<ellipse class="p" cx="311" cy="618.7" rx="2.8" ry="2.3"/>
<ellipse class="p" cx="321" cy="617.7" rx="1.9" ry="1.6"/>
<path class="w" d="M315 631.7 l18 -6.5 a1.6 1.6 0 0 1 1.2 3 l-18 6.5 a1.6 1.6 0 0 1 -1.2 -3z"/>
<path class="w" d="M286 612.7 v6.5 a5 3.5 0 0 0 10 0 v-6.5"/>
<ellipse class="w" cx="291" cy="612.7" rx="5" ry="3.5"/>
<ellipse class="p" cx="291" cy="612.7" rx="2.6" ry="1.8"/>
<ellipse class="w" cx="287" cy="630.4" rx="6.2" ry="4"/>
<path class="p" style="stroke-width:2" d="M280.8 630.4 a6.2 4 0 0 1 12.4 0"/>
<ellipse class="p" cx="287" cy="631.2" rx="3.6" ry="2.2"/>
<ellipse class="w" cx="305" cy="641.2" rx="6.2" ry="4"/>
<path class="p" style="stroke-width:2" d="M298.8 641.2 a6.2 4 0 0 1 12.4 0"/>
<ellipse class="p" cx="305" cy="642" rx="3.6" ry="2.2"/>
<ellipse class="p" cx="298" cy="635.7" rx="1.6" ry="1.4"/>
<path class="p" d="M332 639.7 L336 633.7 L342 632.7"/>
<path class="p" d="M335 646.9 L340 644.4 L349.5 647.9 L362 643.4 L369 645.4 L390 657.1"/>
<path class="p" d="M335 646.9 L334.5 651.4 L339.5 654.4 L349 652.9 L349.5 647.9"/>
<ellipse class="p" cx="342" cy="648.7" rx="2.4" ry="2"/>
<ellipse class="p" cx="347" cy="632.9" rx="3.4" ry="3"/>
<ellipse class="p" cx="347" cy="640.4" rx="2.8" ry="2.3"/>
<ellipse class="p" cx="357" cy="639.4" rx="1.9" ry="1.6"/>
<path class="w" d="M351 653.4 l18 -6.5 a1.6 1.6 0 0 1 1.2 3 l-18 6.5 a1.6 1.6 0 0 1 -1.2 -3z"/>
<path class="w" d="M322 634.4 v6.5 a5 3.5 0 0 0 10 0 v-6.5"/>
<ellipse class="w" cx="327" cy="634.4" rx="5" ry="3.5"/>
<ellipse class="p" cx="327" cy="634.4" rx="2.6" ry="1.8"/>
<ellipse class="w" cx="323" cy="652.1" rx="6.2" ry="4"/>
<path class="p" style="stroke-width:2" d="M316.8 652.1 a6.2 4 0 0 1 12.4 0"/>
<ellipse class="p" cx="323" cy="652.9" rx="3.6" ry="2.2"/>
<ellipse class="w" cx="341" cy="662.9" rx="6.2" ry="4"/>
<path class="p" style="stroke-width:2" d="M334.8 662.9 a6.2 4 0 0 1 12.4 0"/>
<ellipse class="p" cx="341" cy="663.7" rx="3.6" ry="2.2"/>
<ellipse class="p" cx="334" cy="657.4" rx="1.6" ry="1.4"/>
<path class="p" d="M368 661.4 L372 655.4 L378 654.4"/>
<path class="p" style="stroke-width:1.25" d="M240.6 614 L240.6 596 Q240.6 588.5 250 588 M243.6 613 L243.6 597 Q243.6 591.5 250 591"/>
<path class="p" style="stroke-width:1.3" d="M259 582.5 L262.5 577.5 L265 576.2 L268.5 576.5 L271.5 580.5"/>
<path class="w" d="M358 655.5 v6.5 a5 3.5 0 0 0 10 0 v-6.5"/>
<ellipse class="w" cx="363" cy="655.5" rx="5" ry="3.5"/>
<ellipse class="p" cx="363" cy="655.5" rx="2.6" ry="1.8"/>
<path class="p" d="M371 668 L376 665.5 L384 668.5"/>
<path class="p" d="M371 668 L370.5 672.5"/>
<ellipse class="p" cx="377.5" cy="660" rx="2.2" ry="1.8"/>
<ellipse class="p" cx="372" cy="650.5" rx="1.9" ry="1.6"/>
<ellipse class="p" cx="381.5" cy="653.5" rx="2.6" ry="2.1"/>
<path class="p" d="M352 662 L356 658.5 L352 652"/>
<path class="p" d="M330 633 L336 631 L342 634.5"/>
<path class="w" d="M261.5 626.5 l25.5 13.2 a1.7 1.7 0 0 0 1.6 -2.9 l-25.5 -13.2 a1.7 1.7 0 0 0 -1.6 2.9z"/>
<path class="w" d="M299.1 649.4 l25.5 13.2 a1.7 1.7 0 0 0 1.6 -2.9 l-25.5 -13.2 a1.7 1.7 0 0 0 -1.6 2.9z"/>
<path class="p" d="M244 600 L248 597.5 L249 594"/>
<path class="p" d="M258 613.5 L262.5 611"/>
<path class="p" d="M276 623 L281 620.5 L283 616"/>
<path class="p" d="M280 621.7 L284 619.2 L285 615.7"/>
<path class="p" d="M294 635.2 L298.5 632.7"/>
<path class="p" d="M312 644.7 L317 642.2 L319 637.7"/>
<path class="p" d="M316 643.4 L320 640.9 L321 637.4"/>
<path class="p" d="M330 656.9 L334.5 654.4"/>
<path class="p" d="M348 666.4 L353 663.9 L355 659.4"/>
<!-- 60_rocker.py -->
<path class="d" d="M94 222 L420 421.5"/>
<g transform="translate(103.7,231.7)"><path class="w" d="M5.5 0 L9 -2 Q12.5 -3 14.5 0 Q16 3 15 7 Q13.5 10.5 9.5 10.5 L5.5 9 Z"/><ellipse class="p" cx="10.3" cy="4" rx="2.7" ry="3.2" transform="rotate(10 10.3 4)"/><path class="p" d="M9.5 10.5 Q7.5 13 5.5 12.5 M14.8 7.5 Q16.5 9.5 14.5 12 Q12.5 14 9.5 13"/><path class="w" d="M-5.5 0 V21.5 L-6.2 23.2 Q-2 26 2 24.8 L5.8 22.5 L5.5 21 V0"/><ellipse class="w" style="stroke-width:1.3" cx="0" cy="0" rx="5.5" ry="2.6"/><ellipse class="k" cx="0.3" cy="0.2" rx="2" ry="1"/><path class="p" d="M-5.5 21.5 Q0 24.5 5.5 21"/></g>
<g transform="translate(201,289.5)"><path class="w" d="M5.5 0 L9 -2 Q12.5 -3 14.5 0 Q16 3 15 7 Q13.5 10.5 9.5 10.5 L5.5 9 Z"/><ellipse class="p" cx="10.3" cy="4" rx="2.7" ry="3.2" transform="rotate(10 10.3 4)"/><path class="p" d="M9.5 10.5 Q7.5 13 5.5 12.5 M14.8 7.5 Q16.5 9.5 14.5 12 Q12.5 14 9.5 13"/><path class="w" d="M-5.5 0 V21.5 L-6.2 23.2 Q-2 26 2 24.8 L5.8 22.5 L5.5 21 V0"/><ellipse class="w" style="stroke-width:1.3" cx="0" cy="0" rx="5.5" ry="2.6"/><ellipse class="k" cx="0.3" cy="0.2" rx="2" ry="1"/><path class="p" d="M-5.5 21.5 Q0 24.5 5.5 21"/></g>
<g transform="translate(325,364.5)"><path class="w" d="M5.5 0 L9 -2 Q12.5 -3 14.5 0 Q16 3 15 7 Q13.5 10.5 9.5 10.5 L5.5 9 Z"/><ellipse class="p" cx="10.3" cy="4" rx="2.7" ry="3.2" transform="rotate(10 10.3 4)"/><path class="p" d="M9.5 10.5 Q7.5 13 5.5 12.5 M14.8 7.5 Q16.5 9.5 14.5 12 Q12.5 14 9.5 13"/><path class="w" d="M-5.5 0 V21.5 L-6.2 23.2 Q-2 26 2 24.8 L5.8 22.5 L5.5 21 V0"/><ellipse class="w" style="stroke-width:1.3" cx="0" cy="0" rx="5.5" ry="2.6"/><ellipse class="k" cx="0.3" cy="0.2" rx="2" ry="1"/><path class="p" d="M-5.5 21.5 Q0 24.5 5.5 21"/></g>
<g transform="translate(155,264.5) rotate(27)"><rect class="w" x="-10" y="-5" width="20" height="10" rx="2.2"/><path class="p" style="stroke-width:1.25" d="M-8.8 -5 Q-6.6 0 -8.8 5"/><path class="p" style="stroke-width:1.25" d="M-6.6 -5 Q-4.4 0 -6.6 5"/><path class="p" style="stroke-width:1.25" d="M-4.4 -5 Q-2.2 0 -4.4 5"/><path class="p" style="stroke-width:1.25" d="M-2.2 -5 Q0 0 -2.2 5"/><path class="p" style="stroke-width:1.25" d="M0 -5 Q2.2 0 0 5"/><path class="p" style="stroke-width:1.25" d="M2.2 -5 Q4.4 0 2.2 5"/><path class="p" style="stroke-width:1.25" d="M4.4 -5 Q6.6 0 4.4 5"/><path class="p" style="stroke-width:1.25" d="M6.6 -5 Q8.8 0 6.6 5"/><path class="p" style="stroke-width:1.25" d="M8.8 -5 Q11 0 8.8 5"/></g>
<g transform="translate(257.5,325.5) rotate(27)"><rect class="w" x="-10" y="-5" width="20" height="10" rx="2.2"/><path class="p" style="stroke-width:1.25" d="M-8.8 -5 Q-6.6 0 -8.8 5"/><path class="p" style="stroke-width:1.25" d="M-6.6 -5 Q-4.4 0 -6.6 5"/><path class="p" style="stroke-width:1.25" d="M-4.4 -5 Q-2.2 0 -4.4 5"/><path class="p" style="stroke-width:1.25" d="M-2.2 -5 Q0 0 -2.2 5"/><path class="p" style="stroke-width:1.25" d="M0 -5 Q2.2 0 0 5"/><path class="p" style="stroke-width:1.25" d="M2.2 -5 Q4.4 0 2.2 5"/><path class="p" style="stroke-width:1.25" d="M4.4 -5 Q6.6 0 4.4 5"/><path class="p" style="stroke-width:1.25" d="M6.6 -5 Q8.8 0 6.6 5"/><path class="p" style="stroke-width:1.25" d="M8.8 -5 Q11 0 8.8 5"/></g>
<path class="w" style="stroke-width:1.9" d="M82.9 177.7 l1.2 -2.6 h4.4 l1.2 2.6 v2.6 l-1.2 1.2 h-4.4 l-1.2 -1.2z"/>
<ellipse class="p" cx="86.3" cy="177.3" rx="1.6" ry="1.1"/>
<path class="p" d="M85.1 179.1 v2.8 M87.6 179.1 v2.8"/>
<rect class="w" style="stroke-width:1.6" x="84.7" y="186" width="3.6" height="16" rx="1.6"/>
<path class="t" d="M86.5 187.5 L86.5 200.5"/>
<g transform="translate(87.2,208.5)"><path class="w" style="stroke-width:1.45" d="M-1 -3.6 Q-4.5 -3.6 -6 -1.8 L-16 3 L-22 5.2 Q-26 7 -26.6 10 L-27 14 Q-26.5 16.8 -24 16.6 L-21 16 Q-19.5 15 -19 13 L-14.5 12.3 Q-12.5 15.5 -10 16.2 L-6 16.6 Q-2.5 16 -1.5 13 L-0.8 9 L2.5 5 Q5.2 2.5 4.6 -0.5 Q3.6 -3.6 -1 -3.6Z"/><ellipse class="w" style="stroke-width:1.4" cx="0" cy="-0.2" rx="3.9" ry="2.9"/><ellipse class="p" cx="0" cy="-0.2" rx="1.7" ry="1.2"/><ellipse class="p" cx="-5" cy="10.8" rx="3" ry="3.9" transform="rotate(15 -5 10.8)"/><path class="p" style="stroke-width:1.2" d="M-16 3 L-13 7.5 L-18.5 12.8 M-22 5.2 L-20 10 L-26.6 12 M-13 7.5 L-8.5 6 M-6 -1.8 L-3 3 L-8.5 6 M-3 3 L2.5 5 M-20 10 L-18.5 12.8"/></g>
<path class="w" style="stroke-width:1.9" d="M138.9 210.7 l1.2 -2.6 h4.4 l1.2 2.6 v2.6 l-1.2 1.2 h-4.4 l-1.2 -1.2z"/>
<ellipse class="p" cx="142.3" cy="210.3" rx="1.6" ry="1.1"/>
<path class="p" d="M141.1 212.1 v2.8 M143.6 212.1 v2.8"/>
<rect class="w" style="stroke-width:1.6" x="140.7" y="219" width="3.6" height="16" rx="1.6"/>
<path class="t" d="M142.5 220.5 L142.5 233.5"/>
<g transform="translate(143.2,241.5)"><path class="w" style="stroke-width:1.45" d="M-1 -3.6 Q-4.5 -3.6 -6 -1.8 L-16 3 L-22 5.2 Q-26 7 -26.6 10 L-27 14 Q-26.5 16.8 -24 16.6 L-21 16 Q-19.5 15 -19 13 L-14.5 12.3 Q-12.5 15.5 -10 16.2 L-6 16.6 Q-2.5 16 -1.5 13 L-0.8 9 L2.5 5 Q5.2 2.5 4.6 -0.5 Q3.6 -3.6 -1 -3.6Z"/><ellipse class="w" style="stroke-width:1.4" cx="0" cy="-0.2" rx="3.9" ry="2.9"/><ellipse class="p" cx="0" cy="-0.2" rx="1.7" ry="1.2"/><ellipse class="p" cx="-5" cy="10.8" rx="3" ry="3.9" transform="rotate(15 -5 10.8)"/><path class="p" style="stroke-width:1.2" d="M-16 3 L-13 7.5 L-18.5 12.8 M-22 5.2 L-20 10 L-26.6 12 M-13 7.5 L-8.5 6 M-6 -1.8 L-3 3 L-8.5 6 M-3 3 L2.5 5 M-20 10 L-18.5 12.8"/></g>
<path class="w" style="stroke-width:1.9" d="M187.9 240.7 l1.2 -2.6 h4.4 l1.2 2.6 v2.6 l-1.2 1.2 h-4.4 l-1.2 -1.2z"/>
<ellipse class="p" cx="191.3" cy="240.3" rx="1.6" ry="1.1"/>
<path class="p" d="M190.1 242.1 v2.8 M192.6 242.1 v2.8"/>
<rect class="w" style="stroke-width:1.6" x="189.7" y="249" width="3.6" height="16" rx="1.6"/>
<path class="t" d="M191.5 250.5 L191.5 263.5"/>
<g transform="translate(192.2,271.5)"><path class="w" style="stroke-width:1.45" d="M-1 -3.6 Q-4.5 -3.6 -6 -1.8 L-16 3 L-22 5.2 Q-26 7 -26.6 10 L-27 14 Q-26.5 16.8 -24 16.6 L-21 16 Q-19.5 15 -19 13 L-14.5 12.3 Q-12.5 15.5 -10 16.2 L-6 16.6 Q-2.5 16 -1.5 13 L-0.8 9 L2.5 5 Q5.2 2.5 4.6 -0.5 Q3.6 -3.6 -1 -3.6Z"/><ellipse class="w" style="stroke-width:1.4" cx="0" cy="-0.2" rx="3.9" ry="2.9"/><ellipse class="p" cx="0" cy="-0.2" rx="1.7" ry="1.2"/><ellipse class="p" cx="-5" cy="10.8" rx="3" ry="3.9" transform="rotate(15 -5 10.8)"/><path class="p" style="stroke-width:1.2" d="M-16 3 L-13 7.5 L-18.5 12.8 M-22 5.2 L-20 10 L-26.6 12 M-13 7.5 L-8.5 6 M-6 -1.8 L-3 3 L-8.5 6 M-3 3 L2.5 5 M-20 10 L-18.5 12.8"/></g>
<path class="w" style="stroke-width:1.9" d="M236.9 270.7 l1.2 -2.6 h4.4 l1.2 2.6 v2.6 l-1.2 1.2 h-4.4 l-1.2 -1.2z"/>
<ellipse class="p" cx="240.3" cy="270.3" rx="1.6" ry="1.1"/>
<path class="p" d="M239.1 272.1 v2.8 M241.6 272.1 v2.8"/>
<rect class="w" style="stroke-width:1.6" x="238.7" y="279" width="3.6" height="16" rx="1.6"/>
<path class="t" d="M240.5 280.5 L240.5 293.5"/>
<g transform="translate(241.2,301.5)"><path class="w" style="stroke-width:1.45" d="M-1 -3.6 Q-4.5 -3.6 -6 -1.8 L-16 3 L-22 5.2 Q-26 7 -26.6 10 L-27 14 Q-26.5 16.8 -24 16.6 L-21 16 Q-19.5 15 -19 13 L-14.5 12.3 Q-12.5 15.5 -10 16.2 L-6 16.6 Q-2.5 16 -1.5 13 L-0.8 9 L2.5 5 Q5.2 2.5 4.6 -0.5 Q3.6 -3.6 -1 -3.6Z"/><ellipse class="w" style="stroke-width:1.4" cx="0" cy="-0.2" rx="3.9" ry="2.9"/><ellipse class="p" cx="0" cy="-0.2" rx="1.7" ry="1.2"/><ellipse class="p" cx="-5" cy="10.8" rx="3" ry="3.9" transform="rotate(15 -5 10.8)"/><path class="p" style="stroke-width:1.2" d="M-16 3 L-13 7.5 L-18.5 12.8 M-22 5.2 L-20 10 L-26.6 12 M-13 7.5 L-8.5 6 M-6 -1.8 L-3 3 L-8.5 6 M-3 3 L2.5 5 M-20 10 L-18.5 12.8"/></g>
<path class="w" style="stroke-width:1.9" d="M289.4 302.7 l1.2 -2.6 h4.4 l1.2 2.6 v2.6 l-1.2 1.2 h-4.4 l-1.2 -1.2z"/>
<ellipse class="p" cx="292.8" cy="302.3" rx="1.6" ry="1.1"/>
<path class="p" d="M291.6 304.1 v2.8 M294.1 304.1 v2.8"/>
<rect class="w" style="stroke-width:1.6" x="291.2" y="311" width="3.6" height="16" rx="1.6"/>
<path class="t" d="M293 312.5 L293 325.5"/>
<g transform="translate(293.7,333.5)"><path class="w" style="stroke-width:1.45" d="M-1 -3.6 Q-4.5 -3.6 -6 -1.8 L-16 3 L-22 5.2 Q-26 7 -26.6 10 L-27 14 Q-26.5 16.8 -24 16.6 L-21 16 Q-19.5 15 -19 13 L-14.5 12.3 Q-12.5 15.5 -10 16.2 L-6 16.6 Q-2.5 16 -1.5 13 L-0.8 9 L2.5 5 Q5.2 2.5 4.6 -0.5 Q3.6 -3.6 -1 -3.6Z"/><ellipse class="w" style="stroke-width:1.4" cx="0" cy="-0.2" rx="3.9" ry="2.9"/><ellipse class="p" cx="0" cy="-0.2" rx="1.7" ry="1.2"/><ellipse class="p" cx="-5" cy="10.8" rx="3" ry="3.9" transform="rotate(15 -5 10.8)"/><path class="p" style="stroke-width:1.2" d="M-16 3 L-13 7.5 L-18.5 12.8 M-22 5.2 L-20 10 L-26.6 12 M-13 7.5 L-8.5 6 M-6 -1.8 L-3 3 L-8.5 6 M-3 3 L2.5 5 M-20 10 L-18.5 12.8"/></g>
<path class="w" style="stroke-width:1.9" d="M362.4 346.7 l1.2 -2.6 h4.4 l1.2 2.6 v2.6 l-1.2 1.2 h-4.4 l-1.2 -1.2z"/>
<ellipse class="p" cx="365.8" cy="346.3" rx="1.6" ry="1.1"/>
<path class="p" d="M364.6 348.1 v2.8 M367.1 348.1 v2.8"/>
<rect class="w" style="stroke-width:1.6" x="364.2" y="355" width="3.6" height="16" rx="1.6"/>
<path class="t" d="M366 356.5 L366 369.5"/>
<g transform="translate(366.7,377.5)"><path class="w" style="stroke-width:1.45" d="M-1 -3.6 Q-4.5 -3.6 -6 -1.8 L-16 3 L-22 5.2 Q-26 7 -26.6 10 L-27 14 Q-26.5 16.8 -24 16.6 L-21 16 Q-19.5 15 -19 13 L-14.5 12.3 Q-12.5 15.5 -10 16.2 L-6 16.6 Q-2.5 16 -1.5 13 L-0.8 9 L2.5 5 Q5.2 2.5 4.6 -0.5 Q3.6 -3.6 -1 -3.6Z"/><ellipse class="w" style="stroke-width:1.4" cx="0" cy="-0.2" rx="3.9" ry="2.9"/><ellipse class="p" cx="0" cy="-0.2" rx="1.7" ry="1.2"/><ellipse class="p" cx="-5" cy="10.8" rx="3" ry="3.9" transform="rotate(15 -5 10.8)"/><path class="p" style="stroke-width:1.2" d="M-16 3 L-13 7.5 L-18.5 12.8 M-22 5.2 L-20 10 L-26.6 12 M-13 7.5 L-8.5 6 M-6 -1.8 L-3 3 L-8.5 6 M-3 3 L2.5 5 M-20 10 L-18.5 12.8"/></g>
<rect class="w" style="stroke-width:1.2" x="204.2" y="276" width="2.8" height="10.5" rx="1.2"/>
<g transform="translate(50.5,221)"><path class="w" d="M-2.7 5 V23 Q0 24.2 2.7 23 V5"/><path class="t" d="M-2.7 13.5 L2.7 13.5"/><path class="t" d="M-2.7 15.5 L2.7 15.5"/><path class="t" d="M-2.7 17.5 L2.7 17.5"/><path class="t" d="M-2.7 19.5 L2.7 19.5"/><path class="t" d="M-2.7 21.5 L2.7 21.5"/><path class="w" style="stroke-width:1.2" d="M-5.4 2 V-1.3 Q-5.4 -4.6 0 -4.6 Q5.4 -4.6 5.4 -1.3 V2 Z"/><path class="w" style="stroke-width:1.2" d="M-6.6 2 H6.6 V4.2 Q0 6 -6.6 4.2 Z"/><path class="p" d="M-5 -1.5 Q0 .3 5 -1.5 M-2 -0.8 V2 M2.2 -0.8 V2"/></g>
<g transform="translate(140,280.5)"><path class="w" d="M-2.7 5 V23 Q0 24.2 2.7 23 V5"/><path class="t" d="M-2.7 13.5 L2.7 13.5"/><path class="t" d="M-2.7 15.5 L2.7 15.5"/><path class="t" d="M-2.7 17.5 L2.7 17.5"/><path class="t" d="M-2.7 19.5 L2.7 19.5"/><path class="t" d="M-2.7 21.5 L2.7 21.5"/><path class="w" style="stroke-width:1.2" d="M-5.4 2 V-1.3 Q-5.4 -4.6 0 -4.6 Q5.4 -4.6 5.4 -1.3 V2 Z"/><path class="w" style="stroke-width:1.2" d="M-6.6 2 H6.6 V4.2 Q0 6 -6.6 4.2 Z"/><path class="p" d="M-5 -1.5 Q0 .3 5 -1.5 M-2 -0.8 V2 M2.2 -0.8 V2"/></g>
<g transform="translate(260,358)"><path class="w" d="M-2.7 5 V23 Q0 24.2 2.7 23 V5"/><path class="t" d="M-2.7 13.5 L2.7 13.5"/><path class="t" d="M-2.7 15.5 L2.7 15.5"/><path class="t" d="M-2.7 17.5 L2.7 17.5"/><path class="t" d="M-2.7 19.5 L2.7 19.5"/><path class="t" d="M-2.7 21.5 L2.7 21.5"/><path class="w" style="stroke-width:1.2" d="M-5.4 2 V-1.3 Q-5.4 -4.6 0 -4.6 Q5.4 -4.6 5.4 -1.3 V2 Z"/><path class="w" style="stroke-width:1.2" d="M-6.6 2 H6.6 V4.2 Q0 6 -6.6 4.2 Z"/><path class="p" d="M-5 -1.5 Q0 .3 5 -1.5 M-2 -0.8 V2 M2.2 -0.8 V2"/></g>
<path class="t" d="M51 245 L51 252.7 L102.2 222.7 L102.2 229.5"/>
<path class="t" d="M140 304 L140 316 L201 280.5 L201 287.5"/>
<path class="t" d="M260 382 L260 389.5 L323.5 354.5 L323.5 363"/>
<ellipse class="p" style="stroke-width:1.7" cx="61.5" cy="207" rx="3.3" ry="4.3" transform="rotate(35 61.5 207)"/>
<ellipse class="p" style="stroke-width:1.7" cx="542.5" cy="498.5" rx="3.3" ry="4.3" transform="rotate(35 542.5 498.5)"/>
<g transform="translate(427.5,431) rotate(30.1)"><rect class="w" x="0" y="-4.5" width="113.5" height="9" rx="3"/><ellipse class="p" cx="2.2" cy="0" rx="2.2" ry="4.5"/><ellipse class="w" style="stroke-width:1.3" cx="111.3" cy="0" rx="2.2" ry="4.5"/><ellipse class="p" cx="111.3" cy="0" rx="1.2" ry="2.8"/><path class="t" d="M4 2.3 L109.5 2.3"/><path class="t" d="M4 3.4 L109.5 3.4"/><ellipse class="k" cx="18" cy="-2" rx="0.7" ry="0.7"/><ellipse class="k" cx="30" cy="-2" rx="0.7" ry="0.7"/><ellipse class="k" cx="48" cy="-2" rx="0.7" ry="0.7"/><ellipse class="k" cx="62" cy="-2" rx="0.7" ry="0.7"/><ellipse class="k" cx="80" cy="-2" rx="0.7" ry="0.7"/><ellipse class="k" cx="94" cy="-2" rx="0.7" ry="0.7"/></g>
<!-- 61_glow.py -->
<path d="M83 470.5 L138 435 Q146 430 153 430.5 Q160 431 166 435 L181 443.5" fill="none" stroke="#222" stroke-width="3.6" stroke-linejoin="round" stroke-linecap="butt"/>
<path d="M83 470.5 L138 435 Q146 430 153 430.5 Q160 431 166 435 L181 443.5" fill="none" stroke="#fff" stroke-width="2.0" stroke-linejoin="round" stroke-linecap="butt"/>
<path class="w" d="M176 439 L184 443.5 L182.5 446 L174.5 441.5 Z"/>
<path class="w" d="M66.5 473.5 L72 470 L80 470 Q84.5 470.5 84 475 L82.5 478.5 L74 484 L68 484 Z"/>
<path class="p" d="M66.5 473.5 L72.5 474 L74 484 M72.5 474 L78 470.5 M68 479 L73 479.5"/>
<path d="M186 444.5 L223 466.5 L229 467 L228.5 471.5 L259 491 Q264 494 268 489.5" fill="none" stroke="#222" stroke-width="2.8" stroke-linejoin="round" stroke-linecap="butt"/>
<path d="M186 444.5 L223 466.5 L229 467 L228.5 471.5 L259 491 Q264 494 268 489.5" fill="none" stroke="#fff" stroke-width="1.3" stroke-linejoin="round" stroke-linecap="butt"/>
<ellipse class="w" cx="192" cy="440.8" rx="5.6" ry="3.7"/>
<ellipse class="w" style="stroke-width:1.3" cx="192" cy="440" rx="5.6" ry="3.7"/>
<ellipse class="p" style="stroke-width:1.3" cx="192" cy="440" rx="2.9" ry="1.9"/>
<ellipse class="w" cx="232" cy="464.8" rx="5.6" ry="3.7"/>
<ellipse class="w" style="stroke-width:1.3" cx="232" cy="464" rx="5.6" ry="3.7"/>
<ellipse class="p" style="stroke-width:1.3" cx="232" cy="464" rx="2.9" ry="1.9"/>
<ellipse class="w" cx="272" cy="488.8" rx="5.6" ry="3.7"/>
<ellipse class="w" style="stroke-width:1.3" cx="272" cy="488" rx="5.6" ry="3.7"/>
<ellipse class="p" style="stroke-width:1.3" cx="272" cy="488" rx="2.9" ry="1.9"/>
<rect class="w" x="191" y="488" width="5" height="10.5" rx="2"/>
<rect class="w" x="190" y="482" width="7" height="7.5" rx="1"/>
<rect class="w" x="189" y="475.5" width="9" height="7.5" rx="1.5"/>
<path class="w" style="stroke-width:1.3" d="M187.5 468.5 L189 467 H198 L199.5 468.5 V474.5 L198 476 H189 L187.5 474.5 Z"/>
<path class="p" style="stroke-width:1.5" d="M187.5 473 L199.5 473"/>
<path class="t" d="M191 467 L191 473"/>
<path class="t" d="M196 467 L196 473"/>
<rect class="w" x="191.3" y="456" width="3.6" height="11" rx="1.2"/>
<path class="t" d="M191.3 458.5 L194.9 458.5"/>
<path class="t" d="M191.3 460.5 L194.9 460.5"/>
<path class="t" d="M191.3 462.5 L194.9 462.5"/>
<path class="t" d="M191.3 464.5 L194.9 464.5"/>
<!-- 62_plugs.py -->
<ellipse class="w" cx="190.5" cy="592.5" rx="9" ry="11.3" transform="rotate(22 190.5 592.5)"/>
<ellipse class="w" cx="193.8" cy="590.8" rx="9" ry="11.3" transform="rotate(22 193.8 590.8)"/>
<path class="p" d="M186.5 582.2 L183.3 584 M197.5 601.5 L194.5 603.2"/>
<path class="t" d="M195 591 L218 603.5"/>
<path class="t" d="M147.5 584 L180 604.5"/>
<path class="t" d="M185.5 608 L204 618"/>
<path class="t" d="M237 665 L237 677"/>
<path class="w" d="M227.7 688.5 a9.3 3.8 0 0 0 18.6 0 v2.2 a9.3 3.8 0 0 1 -18.6 0z"/>
<path class="w" d="M229 680.5 v7.5 a8 3.6 0 0 0 16 0 v-7.5"/>
<ellipse class="w" cx="237" cy="680.5" rx="8" ry="3.8"/>
<path class="t" d="M361.7 691.7 L377.5 702.5"/>
<ellipse class="w" cx="388.3" cy="709.2" rx="11.5" ry="13.6" transform="rotate(24 388.3 709.2)"/>
<ellipse class="p" cx="390.3" cy="709.8" rx="8.8" ry="11.4" transform="rotate(24 390.3 709.8)"/>
<ellipse class="p" cx="391.8" cy="710.3" rx="7.3" ry="10.2" transform="rotate(24 391.8 710.3)"/>
<path class="t" d="M375.8 669 L399 683.3"/>
<rect class="w" style="stroke-width:1.3" x="-3.3" y="-3.2" width="6.6" height="6.4" rx="1.5" transform="translate(402.5,685.2) rotate(30)"/>
<path class="p" d="M400.5 682.3 L398.6 687 M402.6 683.2 L400.7 688 M404.8 684 L402.9 688.9"/>
<path class="d" d="M345.8 711.7 L345.8 725"/>
<rect class="w" style="stroke-width:1.6" x="344.3" y="726.7" width="3.1" height="11.6" rx="1.3"/>
<!-- 63_hanger.py -->
<g transform="translate(0,0)"><path class="w" d="M505 515.8 Q510.2 518 512.8 524.5 L513.6 531 L505.6 572.4 L502.6 604 Q501.5 607.8 498 608.4 L496.5 608"/><path class="w" style="stroke-width:1.15" d="M491.7 604.5 L491.7 521 Q491.7 514.5 498.5 514.3 L503.5 515 Q508.5 517 511.2 524.6 L512 531 L504 572.4 L501 604 Q500 608 496.5 608 Q492 608 491.7 604.5 Z"/><rect class="p" style="stroke-width:1.15" x="496" y="522" width="10" height="21.5" rx="5" transform="rotate(3 501 532.6)"/><path class="t" d="M498 525 L498 539 Q499 542.5 502 543 M498 529 h1.6 M498 532 h1.6 M498 535 h1.6"/><ellipse class="p" cx="496.8" cy="579.6" rx="1.7" ry="1.9"/><ellipse class="p" cx="496.8" cy="587.5" rx="1.7" ry="1.9"/><ellipse class="p" cx="496.8" cy="602" rx="1.7" ry="1.9"/></g>
<g transform="matrix(-1,0,0,1,627.2,-26)"><path class="w" d="M505 515.8 Q510.2 518 512.8 524.5 L513.6 531 L505.6 572.4 L502.6 604 Q501.5 607.8 498 608.4 L496.5 608"/><path class="w" style="stroke-width:1.15" d="M491.7 604.5 L491.7 521 Q491.7 514.5 498.5 514.3 L503.5 515 Q508.5 517 511.2 524.6 L512 531 L504 572.4 L501 604 Q500 608 496.5 608 Q492 608 491.7 604.5 Z"/><rect class="p" style="stroke-width:1.15" x="496" y="522" width="10" height="21.5" rx="5" transform="rotate(3 501 532.6)"/><path class="t" d="M498 525 L498 539 Q499 542.5 502 543 M498 529 h1.6 M498 532 h1.6 M498 535 h1.6"/><ellipse class="p" cx="496.8" cy="579.6" rx="1.7" ry="1.9"/><ellipse class="p" cx="496.8" cy="587.5" rx="1.7" ry="1.9"/><ellipse class="p" cx="496.8" cy="602" rx="1.7" ry="1.9"/></g>
<g transform="translate(519.5,589) rotate(-24)"><path class="w" d="M-1 -2.4 L-13.5 -2.4 Q-14.8 0 -13.5 2.4 L-1 2.4 Z"/><path class="t" d="M-12 -2.4 L-11.2 2.4"/><path class="t" d="M-10 -2.4 L-9.2 2.4"/><path class="t" d="M-8 -2.4 L-7.2 2.4"/><path class="t" d="M-6 -2.4 L-5.2 2.4"/><path class="t" d="M-4 -2.4 L-3.2 2.4"/><ellipse class="w" style="stroke-width:1.3" cx="0" cy="0" rx="3.4" ry="6.2"/><ellipse class="w" cx="2.2" cy="0" rx="3.2" ry="5.2"/><ellipse class="w" style="stroke-width:1.3" cx="4.6" cy="0" rx="2.9" ry="4.5"/><ellipse class="p" cx="5.2" cy="0" rx="1.5" ry="2.6"/></g>
<g transform="matrix(-1,0,0,1,99.4,555.2) rotate(-24)"><path class="w" d="M-1 -2.4 L-13.5 -2.4 Q-14.8 0 -13.5 2.4 L-1 2.4 Z"/><path class="t" d="M-12 -2.4 L-11.2 2.4"/><path class="t" d="M-10 -2.4 L-9.2 2.4"/><path class="t" d="M-8 -2.4 L-7.2 2.4"/><path class="t" d="M-6 -2.4 L-5.2 2.4"/><path class="t" d="M-4 -2.4 L-3.2 2.4"/><ellipse class="w" style="stroke-width:1.3" cx="0" cy="0" rx="3.4" ry="6.2"/><ellipse class="w" cx="2.2" cy="0" rx="3.2" ry="5.2"/><ellipse class="w" style="stroke-width:1.3" cx="4.6" cy="0" rx="2.9" ry="4.5"/><ellipse class="p" cx="5.2" cy="0" rx="1.5" ry="2.6"/></g>
<path class="t" d="M111 561 L122.5 570"/>
<path class="t" d="M135 576 L147.5 584"/>
<ellipse class="w" cx="180" cy="520" rx="6.3" ry="5.2" transform="rotate(-20 180 520)"/>
<ellipse class="w" style="stroke-width:1.3" cx="180" cy="519" rx="6.3" ry="5.2" transform="rotate(-20 180 519)"/>
<ellipse class="p" style="stroke-width:1.3" cx="180.3" cy="519.3" rx="3.6" ry="2.9" transform="rotate(-20 180.3 519.3)"/>
<ellipse class="w" cx="187.5" cy="537.5" rx="6.4" ry="5.4" transform="rotate(-20 187.5 537.5)"/>
<ellipse class="w" style="stroke-width:1.3" cx="187.5" cy="535" rx="6.4" ry="5.4" transform="rotate(-20 187.5 535)"/>
<ellipse class="p" style="stroke-width:1.3" cx="187.8" cy="535.3" rx="3.8" ry="3" transform="rotate(-20 187.8 535.3)"/>
<path class="p" d="M181.3 536 v2.5 M193.8 534.5 v2.8"/>
<ellipse class="w" cx="196" cy="553.5" rx="6.3" ry="5.2" transform="rotate(-20 196 553.5)"/>
<ellipse class="w" style="stroke-width:1.3" cx="196" cy="552.5" rx="6.3" ry="5.2" transform="rotate(-20 196 552.5)"/>
<ellipse class="p" style="stroke-width:1.3" cx="196.3" cy="552.8" rx="3.6" ry="2.9" transform="rotate(-20 196.3 552.8)"/>
<!-- 64_valve.py -->
<path class="w" d="M380.9 487.6 v4.2 a4.3 2.2 0 0 0 8.6 0 v-4.2"/>
<ellipse class="w" cx="385.2" cy="487.6" rx="4.3" ry="2.3"/>
<path class="w" d="M379.4 501.5 q-0.5 -4.5 2.5 -5 l2 0.3 v7.5 q-2.5 1.5 -4.5 -0.5z"/>
<path class="w" d="M391 501.5 q0.5 -4.5 -2.5 -5 l-2 0.3 v7.5 q2.5 1.5 4.5 -0.5z"/>
<path class="w" d="M383.2 503.5 v4.5 q2 2 4 0 v-4.5"/>
<path class="w" d="M377.5 517.1 l3.7 9 q4 2.2 8 0 l3.7 -9"/>
<ellipse class="w" style="stroke-width:1.3" cx="385.2" cy="516.6" rx="7.7" ry="3.9"/>
<ellipse class="p" cx="385.2" cy="516.6" rx="2.6" ry="1.3"/>
<path class="t" d="M380.9 523.6 q4 2 8.6 0"/>
<rect class="w" x="377.9" y="529" width="14.5" height="27" rx="3"/>
<ellipse class="p" style="stroke-width:1.5" cx="385.2" cy="531.3" rx="7" ry="2.5"/>
<ellipse class="p" style="stroke-width:1.5" cx="385.2" cy="535.1" rx="7" ry="2.5"/>
<ellipse class="p" style="stroke-width:1.5" cx="385.2" cy="538.9" rx="7" ry="2.5"/>
<ellipse class="p" style="stroke-width:1.5" cx="385.2" cy="542.7" rx="7" ry="2.5"/>
<ellipse class="p" style="stroke-width:1.5" cx="385.2" cy="546.5" rx="7" ry="2.5"/>
<ellipse class="p" style="stroke-width:1.5" cx="385.2" cy="550.3" rx="7" ry="2.5"/>
<ellipse class="p" style="stroke-width:1.5" cx="385.2" cy="554.1" rx="7" ry="2.5"/>
<path class="w" style="stroke-width:1.3" d="M380.8 562.5 l1 -4.5 q3.3 -2.2 6.7 0 l1 4.5 v1.8 q-4.3 2.8 -8.7 0z"/>
<ellipse class="p" cx="385.2" cy="558.8" rx="2.2" ry="1.1"/>
<path class="p" d="M380.8 562.5 q4.3 2.4 8.7 0"/>
<rect class="w" style="stroke-width:1.15" x="381.4" y="569.6" width="7.6" height="28.9" rx="2"/>
<ellipse class="p" style="stroke-width:1.2" cx="385.2" cy="571.2" rx="2.6" ry="1.3"/>
<path class="t" d="M381.4 574.1 L389 574.1"/>
<path class="t" d="M381.4 594.5 L389 594.5"/>
<path class="t" d="M381.4 596.5 L389 596.5"/>
<path class="w" d="M403.5 493.6 v4.2 a4.3 2.2 0 0 0 8.6 0 v-4.2"/>
<ellipse class="w" cx="407.8" cy="493.6" rx="4.3" ry="2.3"/>
<path class="w" d="M402 507.5 q-0.5 -4.5 2.5 -5 l2 0.3 v7.5 q-2.5 1.5 -4.5 -0.5z"/>
<path class="w" d="M413.6 507.5 q0.5 -4.5 -2.5 -5 l-2 0.3 v7.5 q2.5 1.5 4.5 -0.5z"/>
<path class="w" d="M405.8 509.5 v4.5 q2 2 4 0 v-4.5"/>
<path class="w" d="M400.1 523.1 l3.7 9 q4 2.2 8 0 l3.7 -9"/>
<ellipse class="w" style="stroke-width:1.3" cx="407.8" cy="522.6" rx="7.7" ry="3.9"/>
<ellipse class="p" cx="407.8" cy="522.6" rx="2.6" ry="1.3"/>
<path class="t" d="M403.5 529.6 q4 2 8.6 0"/>
<rect class="w" x="400.6" y="535.2" width="14.5" height="27" rx="3"/>
<ellipse class="p" style="stroke-width:1.5" cx="407.8" cy="537.5" rx="7" ry="2.5"/>
<ellipse class="p" style="stroke-width:1.5" cx="407.8" cy="541.3" rx="7" ry="2.5"/>
<ellipse class="p" style="stroke-width:1.5" cx="407.8" cy="545.1" rx="7" ry="2.5"/>
<ellipse class="p" style="stroke-width:1.5" cx="407.8" cy="548.9" rx="7" ry="2.5"/>
<ellipse class="p" style="stroke-width:1.5" cx="407.8" cy="552.7" rx="7" ry="2.5"/>
<ellipse class="p" style="stroke-width:1.5" cx="407.8" cy="556.5" rx="7" ry="2.5"/>
<ellipse class="p" style="stroke-width:1.5" cx="407.8" cy="560.3" rx="7" ry="2.5"/>
<path class="w" style="stroke-width:1.3" d="M403.4 568.2 l1 -4.5 q3.3 -2.2 6.7 0 l1 4.5 v1.8 q-4.3 2.8 -8.7 0z"/>
<ellipse class="p" cx="407.8" cy="564.5" rx="2.2" ry="1.1"/>
<path class="p" d="M403.4 568.2 q4.3 2.4 8.7 0"/>
<rect class="w" style="stroke-width:1.15" x="404" y="582" width="7.6" height="29" rx="2"/>
<ellipse class="p" style="stroke-width:1.2" cx="407.8" cy="583.6" rx="2.6" ry="1.3"/>
<path class="t" d="M404 586.5 L411.6 586.5"/>
<path class="t" d="M404 607 L411.6 607"/>
<path class="t" d="M404 609 L411.6 609"/>
<path class="w" d="M315 730.3 v2.6 a9 4.8 0 0 0 18 0 v-2.6"/>
<ellipse class="w" style="stroke-width:1.4" cx="324" cy="730.3" rx="9" ry="4.8"/>
<ellipse class="p" cx="324" cy="730.6" rx="6.2" ry="3"/>
<path class="w" d="M330.5 751.5 v2.6 a11 5.8 0 0 0 22 0 v-2.6"/>
<ellipse class="w" style="stroke-width:1.4" cx="341.5" cy="751.5" rx="11" ry="5.8"/>
<ellipse class="p" cx="341.5" cy="751.8" rx="8.2" ry="4"/>
<path class="d" d="M324.4 738 L324.4 764"/>
<path class="d" d="M341.5 760 L341.5 771"/>
<rect class="w" x="322.2" y="765" width="4.4" height="37.5" rx="1.2"/>
<path class="t" d="M322.2 767.2 L326.6 767.2"/>
<path class="t" d="M322.2 768.6 L326.6 768.6"/>
<path class="w" d="M322.2 799.5 q-0.3 4.5 -6 7 h16.4 q-5.7 -2.5 -6 -7"/>
<ellipse class="w" style="stroke-width:1.3" cx="324.4" cy="807" rx="9" ry="4.6"/>
<ellipse class="p" cx="324.4" cy="807.7" rx="6.8" ry="3"/>
<rect class="w" x="339.3" y="772" width="4.4" height="38.5" rx="1.2"/>
<path class="t" d="M339.3 774.2 L343.7 774.2"/>
<path class="t" d="M339.3 775.6 L343.7 775.6"/>
<path class="w" d="M339.3 807.5 q-0.3 4.5 -8 7 h20.4 q-7.7 -2.5 -8 -7"/>
<ellipse class="w" style="stroke-width:1.3" cx="341.5" cy="815" rx="11" ry="5.6"/>
<ellipse class="p" cx="341.5" cy="815.7" rx="8.8" ry="4"/>
<rect class="w" style="stroke-width:1.15" x="521.5" y="746" width="7" height="28" rx="2"/>
<ellipse class="p" style="stroke-width:1.2" cx="525" cy="747.5" rx="2.4" ry="1.2"/>
<path class="t" d="M521.5 750 L528.5 750"/>
<path class="t" d="M521.5 770 L528.5 770"/>
<path class="t" d="M521.5 772 L528.5 772"/>
<rect class="w" style="stroke-width:1.15" x="544.5" y="757" width="7" height="29" rx="2"/>
<ellipse class="p" style="stroke-width:1.2" cx="548" cy="758.5" rx="2.4" ry="1.2"/>
<path class="t" d="M544.5 761 L551.5 761"/>
<path class="t" d="M544.5 782 L551.5 782"/>
<path class="t" d="M544.5 784 L551.5 784"/>
<!-- 70_lines.py -->
<path class="t" d="M202 316 L202 413.7 L305.5 477.8 L305.5 626"/>
<path class="t" d="M324.4 390 L324.4 582.4 L342 596 L342 646.5"/>
<path class="t" d="M193.5 502 L193.5 515 L242.4 547 L242.4 599"/>
<path class="t" d="M200 560 L222 609"/>
<path class="t" d="M385 597 L385 607 L352 625"/>
<path class="t" d="M407.3 611 L407.3 617 L355 650"/>
<path class="l" d="M412 595 L466 595"/>
</g></svg>
</body></html>
